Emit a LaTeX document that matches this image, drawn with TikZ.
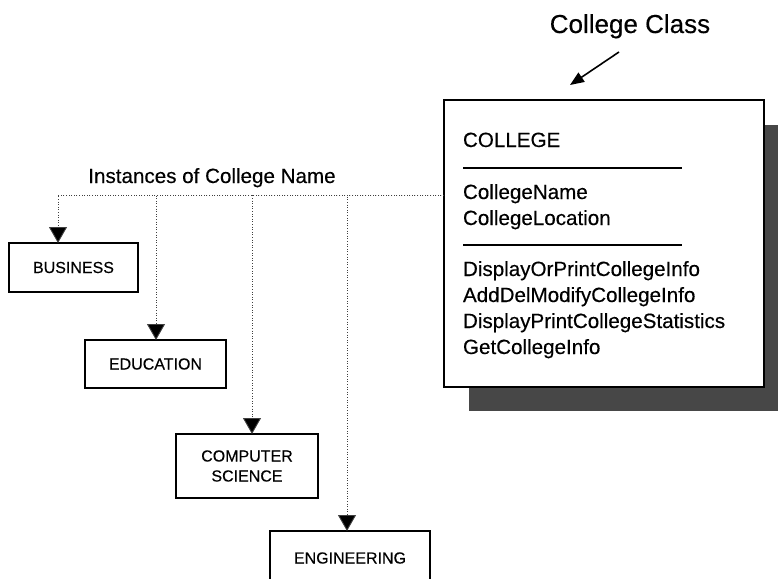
\documentclass[tikz,border=0pt]{standalone}
\usepackage{fontspec}
\setmainfont{Liberation Sans}[FakeBold=0.35]
\usetikzlibrary{arrows.meta}
\begin{document}
\begin{tikzpicture}[x=1pt,y=-1pt,
  every node/.style={inner sep=0pt, outer sep=0pt},
  instbox/.style={draw, line width=1.8pt, fill=white, align=center,
    font=\fontsize{16}{20}\selectfont, anchor=north west},
  classbox/.style={draw, line width=2pt, fill=white, anchor=north west,
    minimum width=320pt, minimum height=287pt},
  member/.style={anchor=base west, font=\fontsize{20.6}{24}\selectfont},
  rule/.style={line width=1.3pt},
  link/.style={draw=black!75, line width=0.9pt, dash pattern=on 1pt off 1.6pt,
    -{Triangle[width=18pt,length=16pt,fill=black]}},
  pointer/.style={line width=1.6pt, -{Triangle[width=11pt,length=14pt]}}
]
\useasboundingbox (0,0) rectangle (778,578);

% shadow of the class box
\fill[black!72] (469,125) rectangle (778,411);

% class box
\node[classbox] (college) at (444,100) {};
\node[member] (cname) at (463,147) {COLLEGE};
\draw[rule] (463,168) -- (682,168);
\node[member] (attr1) at (463,199) {CollegeName};
\node[member] (attr2) at (463,225) {CollegeLocation};
\draw[rule] (463,245) -- (682,245);
\node[member] (op1) at (463,276) {DisplayOrPrintCollegeInfo};
\node[member] (op2) at (463,302) {AddDelModifyCollegeInfo};
\node[member] (op3) at (463,328) {DisplayPrintCollegeStatistics};
\node[member] (op4) at (463,354) {GetCollegeInfo};

% titles
\node[anchor=base, font=\fontsize{26}{30}\selectfont] (classlabel) at (630,33) {College Class};
\coordinate (ccTail) at (619,52);
\coordinate (ccTip) at (570,85);
\draw[pointer] (ccTail) -- (ccTip);

\node[anchor=base, font=\fontsize{20.6}{24}\selectfont] (instlabel) at (212,183) {Instances of College Name};

% instance boxes
\node[instbox, minimum width=129pt, minimum height=49pt] (business) at (9,243) {BUSINESS};
\node[instbox, minimum width=141pt, minimum height=48pt] (education) at (85,340) {EDUCATION};
\node[instbox, minimum width=142pt, minimum height=64pt] (compsci) at (176,434) {COMPUTER\\SCIENCE};
\node[instbox, minimum width=160pt, minimum height=54pt] (engineering) at (270,531) {ENGINEERING};

% instance links
\coordinate (tap) at (college.north west |- 0,195);
\draw[link] (tap) -| ([xshift=49pt]business.north west);
\draw[link] (tap) -| ([xshift=71pt]education.north west);
\draw[link] (tap) -| ([xshift=76pt]compsci.north west);
\draw[link] (tap) -| ([xshift=77pt]engineering.north west);
\end{tikzpicture}
\end{document}
